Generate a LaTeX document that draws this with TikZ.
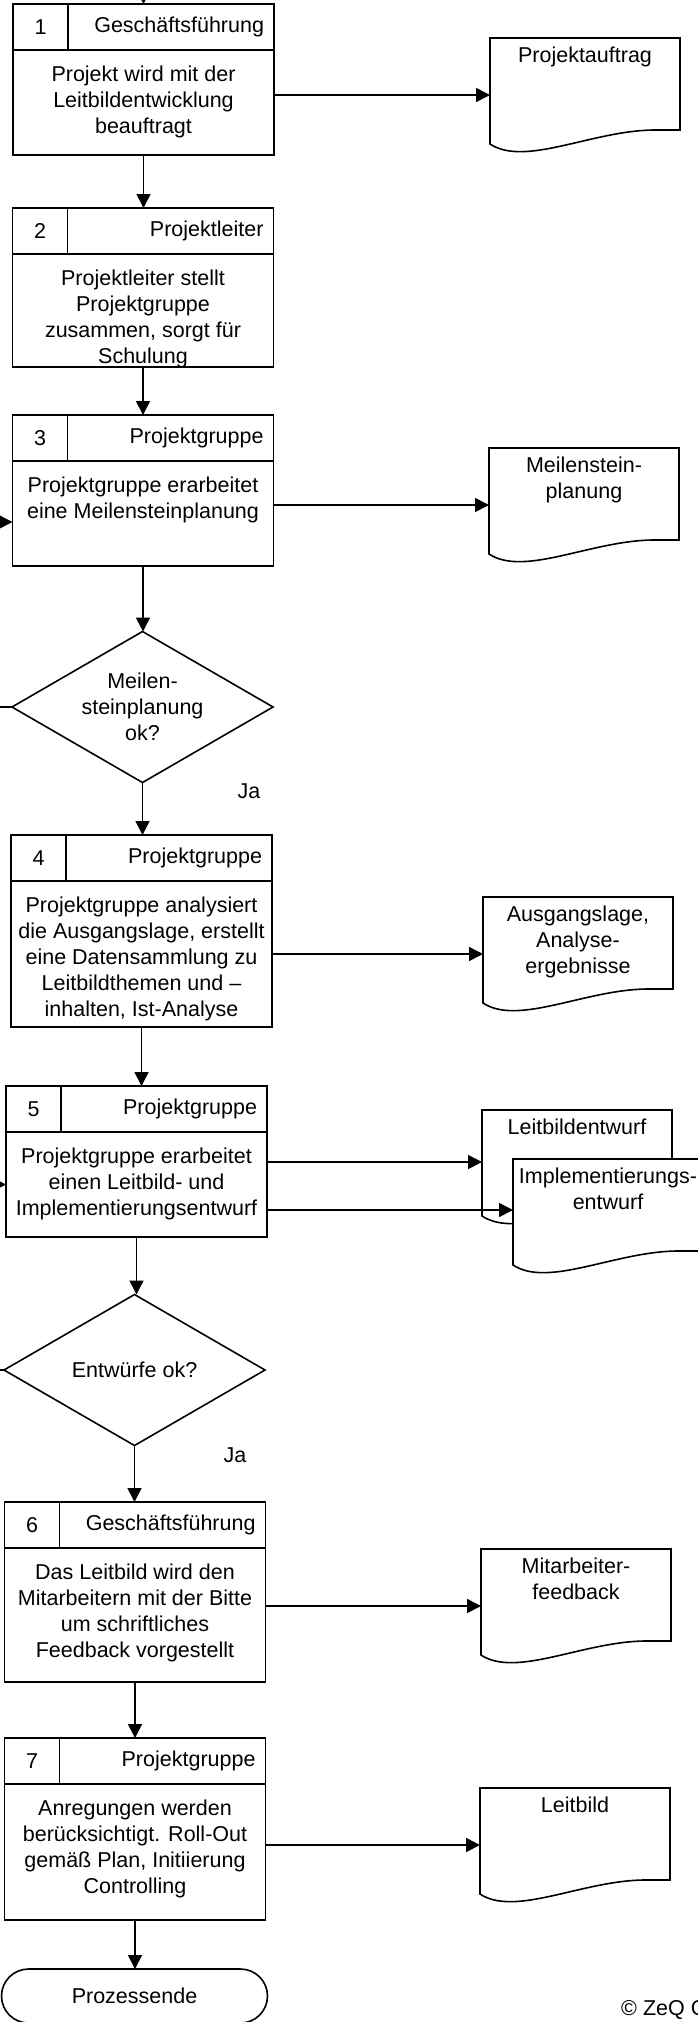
\documentclass[tikz,border=0pt]{standalone}
\usepackage{fontspec}
\setmainfont{Liberation Sans}
\usetikzlibrary{arrows.meta,positioning,shapes.geometric,shapes.misc}
\definecolor{ink}{HTML}{000000}
\tikzset{
  hdrbox/.style={rectangle,draw=ink,line width=1.6pt,minimum width=261pt,minimum height=46pt,text width=241pt,inner xsep=10pt,inner ysep=0pt,outer sep=0pt,align=right},
  numbox/.style={rectangle,draw=ink,line width=1.6pt,minimum width=55pt,minimum height=46pt,inner sep=0pt,outer sep=0pt},
  stepbox/.style={rectangle,draw=ink,line width=1.6pt,minimum width=261pt,inner sep=0pt,outer sep=0pt},
  steptext/.style={align=center,inner sep=0pt},
  docbox/.style={rectangle,minimum width=190pt,minimum height=114pt,inner sep=0pt,outer sep=0pt},
  docline/.style={draw=ink,line width=1.6pt,fill=white},
  decision/.style={diamond,draw=ink,line width=1.6pt,minimum width=261pt,minimum height=151pt,aspect=1.73,inner sep=0pt,outer sep=0pt,align=center},
  terminal/.style={rounded rectangle,draw=ink,line width=1.6pt,minimum width=266pt,minimum height=54pt,inner sep=0pt,outer sep=0pt},
  arrow/.style={-{Triangle[length=14pt,width=14pt]},line width=1.6pt,ink}
}

\begin{document}
\begin{tikzpicture}[x=1pt,y=-1pt,font=\fontsize{21.5}{26}\selectfont]
  \useasboundingbox (0,0) rectangle (698,2022);
  \clip (0,0) rectangle (698,2022);
  \fill[white] (0,0) rectangle (698,2022);

  \node[hdrbox] (h1) at (143.5,27) {Geschäftsführung};
  \node[numbox] (n1) at (40.5,27) {1};
  \node[stepbox,minimum height=105pt] (b1) at (143.5,102.5) {};
  \node[steptext,below=16pt of b1.north] (b1txt) {Projekt wird mit der\\Leitbildentwicklung\\beauftragt};

  \node[hdrbox] (h2) at (143,231) {Projektleiter};
  \node[numbox] (n2) at (40,231) {2};
  \node[stepbox,minimum height=113pt] (b2) at (143,310.5) {};
  \node[steptext,below=16pt of b2.north] (b2txt) {Projektleiter stellt\\Projektgruppe\\zusammen, sorgt für\\Schulung};

  \node[hdrbox] (h3) at (143,438) {Projektgruppe};
  \node[numbox] (n3) at (40,438) {3};
  \node[stepbox,minimum height=105pt] (b3) at (143,513.5) {};
  \node[steptext,below=16pt of b3.north] (b3txt) {Projektgruppe erarbeitet\\eine Meilensteinplanung};

  \node[decision] (dia1) at (142.5,707) {Meilen-\\steinplanung\\ok?};
  \node (ja1) at (249,791) {Ja};

  \node[hdrbox] (h4) at (141.5,858) {Projektgruppe};
  \node[numbox] (n4) at (38.5,858) {4};
  \node[stepbox,minimum height=146pt] (b4) at (141.5,954) {};
  \node[steptext,below=16pt of b4.north] (b4txt) {Projektgruppe analysiert\\die Ausgangslage, erstellt\\eine Datensammlung zu\\Leitbildthemen und –\\inhalten, Ist-Analyse};

  \node[hdrbox] (h5) at (136.5,1109) {Projektgruppe};
  \node[numbox] (n5) at (33.5,1109) {5};
  \node[stepbox,minimum height=105pt] (b5) at (136.5,1184.5) {};
  \node[steptext,below=16pt of b5.north] (b5txt) {Projektgruppe erarbeitet\\einen Leitbild- und\\Implementierungsentwurf};

  \node[decision] (dia2) at (134.5,1370) {Entwürfe ok?};
  \node (ja2) at (235,1455) {Ja};

  \node[hdrbox] (h6) at (135,1525) {Geschäftsführung};
  \node[numbox] (n6) at (32,1525) {6};
  \node[stepbox,minimum height=134pt] (b6) at (135,1615) {};
  \node[steptext,below=16pt of b6.north] (b6txt) {Das Leitbild wird den\\Mitarbeitern mit der Bitte\\um schriftliches\\Feedback vorgestellt};

  \node[hdrbox] (h7) at (135,1761) {Projektgruppe};
  \node[numbox] (n7) at (32,1761) {7};
  \node[stepbox,minimum height=136pt] (b7) at (135,1852) {};
  \node[steptext,below=16pt of b7.north] (b7txt) {Anregungen werden\\berücksichtigt. Roll-Out\\gemäß Plan, Initiierung\\Controlling};

  \node[terminal] (ende) at (134.5,1996) {Prozessende};

  \node[docbox] (pauf) at (585,95) {};
  \node[docbox] (mplan) at (584,505) {};
  \node[docbox] (ausg) at (578,954) {};
  \node[docbox] (lbe) at (577,1167) {};
  \node[docbox] (impl) at (608,1216) {};
  \node[docbox] (mafb) at (576,1606) {};
  \node[docbox] (lbild) at (575,1845) {};
  \foreach \d in {pauf,mplan,ausg,lbe,impl,mafb,lbild}
    \draw[docline] ([yshift=8pt]\d.south west) -- (\d.north west) -- (\d.north east) -- ([yshift=22pt]\d.south east) -- ([xshift=-27pt,yshift=22pt]\d.south east) .. controls +(-62,1) and +(35,23) .. ([yshift=8pt]\d.south west) -- cycle;
  \node[steptext,below=9pt of pauf.north] (pauftxt) {Projektauftrag};
  \node[steptext,below=9pt of mplan.north] (mplantxt) {Meilenstein-\\planung};
  \node[steptext,below=9pt of ausg.north] (ausgtxt) {Ausgangslage,\\Analyse-\\ergebnisse};
  \node[steptext,below=9pt of lbe.north] (lbetxt) {Leitbildentwurf};
  \node[steptext,below=9pt of impl.north] (impltxt) {Implementierungs-\\entwurf};
  \node[steptext,below=9pt of mafb.north] (mafbtxt) {Mitarbeiter-\\feedback};
  \node[steptext,below=9pt of lbild.north] (lbildtxt) {Leitbild};

  \node[anchor=west,inner sep=0pt] (zeq) at (621,2010) {© ZeQ GmbH};

  \coordinate (start) at (143.5,-40);
  \coordinate (b3in) at ([yshift=-8.5pt]b3.west);
  \coordinate (lbein) at ([yshift=5pt]lbe.west);
  \coordinate (implin) at ([yshift=6pt]impl.west);

  \draw[arrow] (start) -- (h1.north);
  \draw[arrow] (b1.south) -- (b1.south |- h2.north);
  \draw[arrow] (b2.south) -- (b2.south |- h3.north);
  \draw[arrow] (b3.south) -- (b3.south |- dia1.north);
  \draw[arrow] (dia1.south) -- (dia1.south |- h4.north);
  \draw[arrow] (b4.south) -- (b4.south |- h5.north);
  \draw[arrow] (b5.south) -- (b5.south |- dia2.north);
  \draw[arrow] (dia2.south) -- (dia2.south |- h6.north);
  \draw[arrow] (b6.south) -- (b6.south |- h7.north);
  \draw[arrow] (b7.south) -- (b7.south |- ende.north);

  \draw[arrow] (dia1.west) -- ++(-30,0) |- (b3in);
  \draw[arrow] (dia2.west) -- ++(-30,0) |- (b5.west);

  \draw[arrow] (b1.east |- pauf.west) -- (pauf.west);
  \draw[arrow] (b3.east |- mplan.west) -- (mplan.west);
  \draw[arrow] (b4.east |- ausg.west) -- (ausg.west);
  \draw[arrow] (b5.east |- lbein) -- (lbein);
  \draw[arrow] (b5.east |- implin) -- (implin);
  \draw[arrow] (b6.east |- mafb.west) -- (mafb.west);
  \draw[arrow] (b7.east |- lbild.west) -- (lbild.west);
\end{tikzpicture}
\end{document}
